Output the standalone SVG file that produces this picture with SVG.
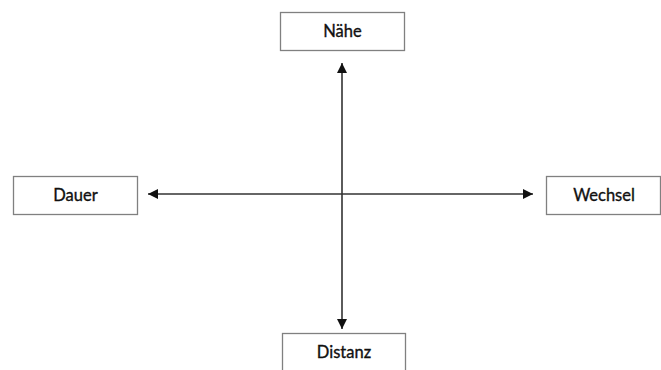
<svg xmlns="http://www.w3.org/2000/svg" width="661" height="370" viewBox="0 0 661 370">
<style>
.box{fill:#fff;stroke:#808080;stroke-width:1.3}
.lbl{font-family:Lato,"Open Sans",sans-serif;font-size:16.5px;fill:#111;stroke:#111;stroke-width:0.35;text-anchor:middle;dominant-baseline:central}
.ln{stroke:#333;stroke-width:1.6;fill:none}
</style>
<defs>
<marker id="ah" viewBox="0 0 10 10" refX="10" refY="5" markerWidth="10" markerHeight="10" markerUnits="userSpaceOnUse" orient="auto">
<path d="M0,0 L10,5 L0,10 z" fill="#111"/>
</marker>
</defs>
<rect width="661" height="370" fill="#fff"/>
<g id="connectors">
<line class="ln" x1="342" y1="194" x2="342" y2="63" marker-end="url(#ah)"/>
<line class="ln" x1="342" y1="194" x2="342" y2="329" marker-end="url(#ah)"/>
<line class="ln" x1="342" y1="194" x2="148" y2="194" marker-end="url(#ah)"/>
<line class="ln" x1="342" y1="194" x2="533" y2="194" marker-end="url(#ah)"/>
</g>
<g id="naehe">
<rect class="box" x="280.5" y="12.5" width="124" height="38"/>
<text class="lbl" x="342.5" y="31">Nähe</text>
</g>
<g id="dauer">
<rect class="box" x="13.5" y="176.5" width="124" height="38"/>
<text class="lbl" x="75.5" y="195">Dauer</text>
</g>
<g id="wechsel">
<rect class="box" x="546.5" y="176.5" width="114" height="38"/>
<text class="lbl" x="604" y="195">Wechsel</text>
</g>
<g id="distanz">
<rect class="box" x="282.5" y="333.5" width="123" height="40"/>
<text class="lbl" x="344" y="352">Distanz</text>
</g>
</svg>
